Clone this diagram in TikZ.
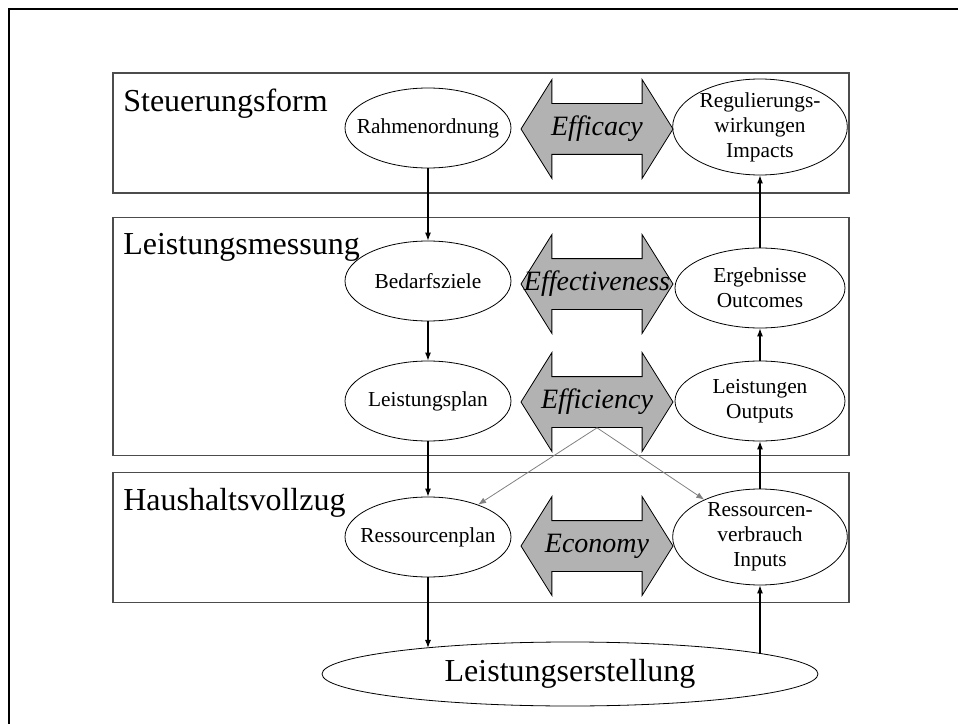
\documentclass[tikz,border=0pt]{standalone}
\usepackage{fontspec}
\setmainfont{Liberation Serif}
\usetikzlibrary{shapes.geometric, shapes.arrows, arrows.meta}

\begin{document}
\begin{tikzpicture}[x=0.75pt, y=-0.75pt, >={Latex[length=6pt, width=4.5pt]}]
	% Define styles
	\tikzstyle{layer} = [rectangle, draw=black!70, line width=0.9pt, minimum width=552pt, inner sep=0pt]
	\tikzstyle{layername} = [anchor=north west, inner xsep=8pt, inner ysep=12pt, font=\fontsize{24}{28}\selectfont]
	\tikzstyle{stage} = [ellipse, draw, line width=0.6pt, minimum width=124.5pt, minimum height=60pt, inner sep=0pt]
	\tikzstyle{bigstage} = [stage, minimum width=131pt, minimum height=72pt]
	\tikzstyle{stagetext} = [align=center, font=\fontsize{16}{18.75}\selectfont]
	\tikzstyle{twoway} = [double arrow, draw, line width=0.6pt, fill=gray!60, double arrow head extend=18pt, double arrow tip angle=116, minimum height=114pt, inner xsep=0pt, inner ysep=18.75pt]
	\tikzstyle{twowaytext} = [font=\fontsize{21}{24}\selectfont\itshape]
	\tikzstyle{flow} = [->, line width=0.8pt]
	\tikzstyle{crossflow} = [->, draw=gray, line width=0.6pt]

	\useasboundingbox (0,0) rectangle (958,724);
	\draw[line width=2.2pt] (9,724) -- (9,9) -- (958,9);

	% Layers
	\node[layer, minimum height=90pt] (steuerung) at (481,133) {};
	\node[layer, minimum height=179pt] (messung) at (481,336.5) {};
	\node[layer, minimum height=97pt] (vollzug) at (481,537.5) {};
	\node[layername] (steuerungname) at (steuerung.north west) {Steuerungsform};
	\node[layername] (messungname) at (messung.north west) {Leistungsmessung};
	\node[layername] (vollzugname) at (vollzug.north west) {Haushaltsvollzug};

	% Nodes
	\node[stage, label={[stagetext]center:Rahmenordnung}] (rahmen) at (428,128) {};
	\node[stage, label={[stagetext]center:Bedarfsziele}] (bedarf) at (428,281) {};
	\node[stage, label={[stagetext]center:Leistungsplan}] (lplan) at (428,401) {};
	\node[stage, label={[stagetext]center:Ressourcenplan}] (resplan) at (428,537) {};

	\node[bigstage, label={[stagetext]center:Regulierungs-\\wirkungen\\Impacts}] (impacts) at (760,127) {};
	\node[stage, minimum width=127.5pt, label={[stagetext]center:Ergebnisse\\Outcomes}] (outcomes) at (760,288) {};
	\node[stage, minimum width=127.5pt, label={[stagetext]center:Leistungen\\Outputs}] (outputs) at (760,401) {};
	\node[bigstage, label={[stagetext]center:Ressourcen-\\verbrauch\\Inputs}] (inputs) at (760,537) {};

	\node[twoway, label={[twowaytext]center:Efficacy}] (efficacy) at (597,129) {};
	\node[twoway, label={[twowaytext]center:Effectiveness}] (effectiveness) at (597,284) {};
	\node[twoway, label={[twowaytext]center:Efficiency}] (efficiency) at (597,402) {};
	\node[twoway, label={[twowaytext]center:Economy}] (economy) at (597,546) {};

	\node[ellipse, draw, line width=0.6pt, minimum width=372pt, minimum height=48pt, inner sep=0pt, label={[font=\fontsize{24}{28}\selectfont]center:Leistungserstellung}] (erstellung) at (570,674) {};

	% Arrows
	\draw[flow] (rahmen) -- (bedarf);
	\draw[flow] (bedarf) -- (lplan);
	\draw[flow] (lplan) -- (resplan);
	\draw[flow] (resplan) -- (resplan |- erstellung.170);
	\draw[flow] (erstellung.6 -| inputs) -- (inputs);
	\draw[flow] (inputs) -- (outputs);
	\draw[flow] (outputs) -- (outcomes);
	\draw[flow] (outcomes) -- (impacts);
	\draw[crossflow] (efficiency.south) -- (resplan);
	\draw[crossflow] (efficiency.south) -- (inputs);
\end{tikzpicture}
\end{document}
